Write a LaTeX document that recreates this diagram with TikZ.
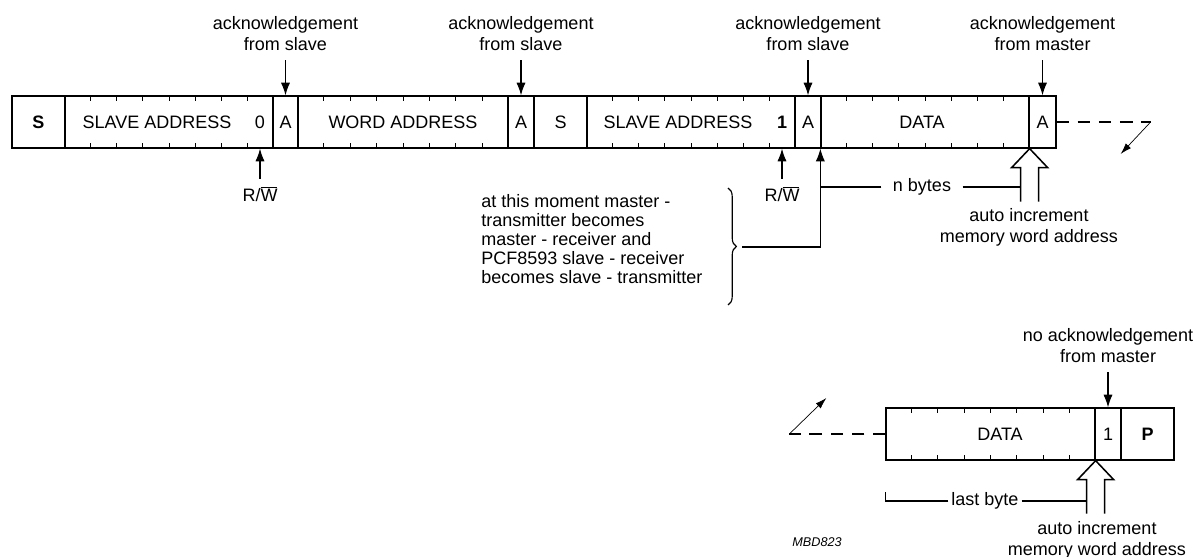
\documentclass[tikz,border=0pt]{standalone}
\usepackage{fontspec}
\setmainfont{Liberation Sans}
\usepackage{tikz}
\usetikzlibrary{arrows.meta, calc, decorations.pathreplacing}

\newcommand{\px}{0.025cm}
\tikzset{
  every node/.style={font=\fontsize{12.8}{14.8}\selectfont, inner sep=2pt},
  field/.style={draw, line width=0.9pt, minimum height=52*\px, inner sep=0pt},
  bit/.style={line width=0.7pt},
  sig/.style={line width=0.8pt, -{Latex[length=9pt, width=6.5pt]}},
  wire/.style={line width=0.8pt},
  hollow/.style={line width=1.1pt, line join=miter},
  cont/.style={line width=0.8pt, dash pattern=on 9pt off 6pt},
  turn/.style={line width=0.5pt, -{Latex[length=8pt, width=5pt]}},
  note/.style={align=center},
}
% one plain field of a frame
\newcommand{\bytecell}[5]{%
  \node[field, minimum width={(#3-#2)*\px}] (#1) at ({(#2+#3)/2},#4) {#5};}
% an 8 bit field with tick marks
\newcommand{\bytefield}[4]{%
  \node[field, minimum width={(#3-#2)*\px}] (#1) at ({(#2+#3)/2},#4) {};
  \foreach \k in {1,...,7}{
    \draw[bit] ($(#1.north west)!\k/8!(#1.north east)$) -- ++(0,6);
    \draw[bit] ($(#1.south west)!\k/8!(#1.south east)$) -- ++(0,-6);
  }}
% open arrow for the address increment
\newcommand{\autoinc}[2]{%
  \coordinate (#2l) at ($(#1)+(-9,0)$);
  \draw[hollow] ($(#1)+(-9,53)$) -- ++(0,-34) -- ++(-9,0) -- (#1)
    -- ++(18,19) -- ++(-9,0) -- ++(0,34);}

\begin{document}
\begin{tikzpicture}[x=\px, y=-\px]
\useasboundingbox (0,0) rectangle (1199,557);

% read frame
\bytecell{s1}{12}{65}{122}{\textbf{S}}
\bytefield{sa1}{65}{273}{122}
\bytecell{a1}{273}{298}{122}{A}
\bytefield{wa}{298}{508}{122}
\bytecell{a2}{508}{534}{122}{A}
\bytecell{s2}{534}{587}{122}{S}
\bytefield{sa2}{587}{795}{122}
\bytecell{a3}{795}{821}{122}{A}
\bytefield{d1}{821}{1029}{122}
\bytecell{a4}{1029}{1056}{122}{A}
\node (sa1t) at (157,122) {SLAVE ADDRESS};
\node (rwb1) at (260,122) {0};
\node (wat) at (403,122) {WORD ADDRESS};
\node (sa2t) at (678,122) {SLAVE ADDRESS};
\node (rwb2) at (782,122) {\textbf{1}};
\node (d1t) at (922,122) {DATA};

\foreach \c/\who in {a1/slave, a2/slave, a3/slave, a4/master}{
  \node[note, anchor=south] (ack\c) at ($(\c.north)+(0,-42)$) {acknowledgement\\from \who};
  \draw[sig, shorten <=5pt] (ack\c) -- (\c.north);
}

\node (rw1) at (260,194) {R/$\overline{\mbox{W}}$};
\draw[sig, shorten <=3pt] (rw1) -- (rw1 |- sa1.south);
\node (rw2) at (782,194) {R/$\overline{\mbox{W}}$};
\draw[sig, shorten <=3pt] (rw2) -- (rw2 |- sa2.south);

% direction change
\node[align=left, anchor=west, inner sep=0pt, font=\fontsize{12.8}{13.6}\selectfont] (turnover) at (481,239)
  {at this moment master -\\transmitter becomes\\master - receiver and\\PCF8593 slave - receiver\\becomes slave - transmitter};
\draw[wire, decorate, decoration={brace, amplitude=6pt}] (728,188) -- (728,305);
\coordinate (brtip) at (742,247);
\draw[sig] (brtip) -- (brtip -| d1.south west) -- (d1.south west);

\autoinc{d1.south east}{inc1}
\node[inner xsep=8pt] (nb) at (922,187) {n bytes};
\draw[wire] (nb.west) -- (nb.west -| d1.south west);
\draw[wire] (nb.east) -- (nb.east -| inc1l);
\node[note] (inc1t) at (1029,227) {auto increment\\memory word address};

\draw[cont] (a4.east) -- ++(94,0) coordinate (c1);
\draw[turn] (c1) -- ++(-30,32);

% last byte
\bytefield{d2}{886}{1095}{434}
\bytecell{na}{1095}{1121}{434}{1}
\bytecell{p}{1121}{1174}{434}{\textbf{P}}
\node (d2t) at (1000,434) {DATA};
\node[note, anchor=south] (nack) at ($(na.north)+(0,-42)$) {no acknowledgement\\from master};
\draw[sig, shorten <=5pt] (nack) -- (na.north);

\draw[cont] (d2.west) -- ++(-96,0) coordinate (c2);
\draw[turn] (c2) -- ++(37,-36);

\autoinc{d2.south east}{inc2}
\node (lb) at (985,501) {last byte};
\draw[wire] (lb.west) -- (lb.west -| d2.south west) -- ++(0,-9);
\draw[wire] (lb.east) -- (lb.east -| inc2l);
\node[note] (inc2t) at (1097,540) {auto increment\\memory word address};

\node[font=\fontsize{9}{10}\selectfont\itshape] (code) at (817,542) {MBD823};
\end{tikzpicture}
\end{document}
